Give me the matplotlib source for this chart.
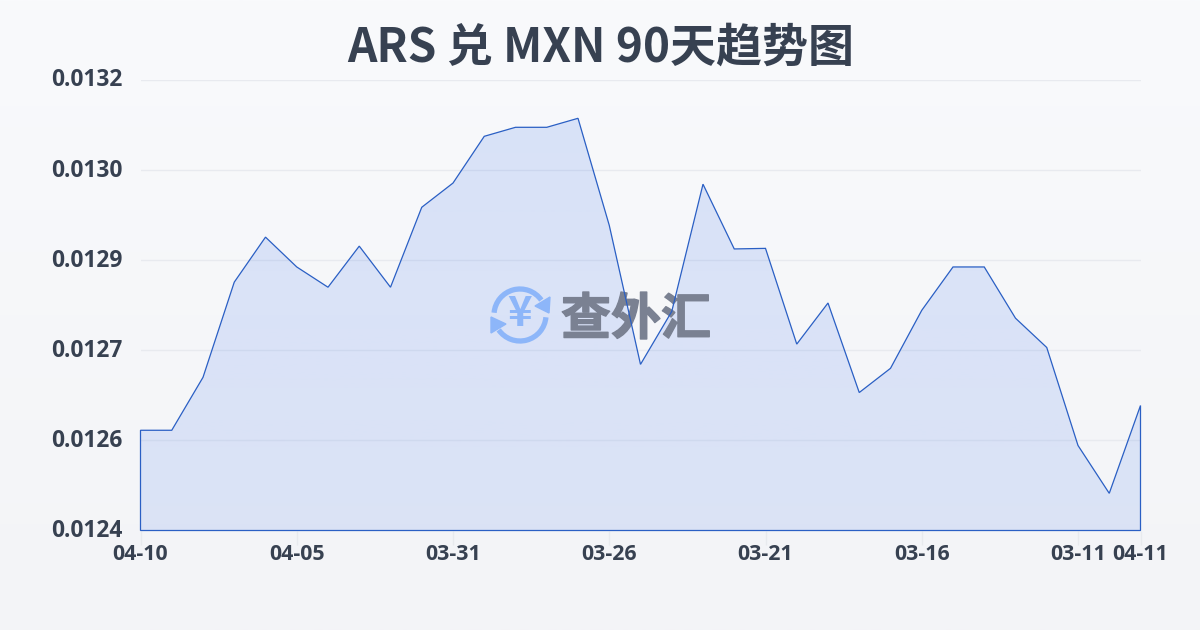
import numpy as np
import matplotlib
matplotlib.use('Agg')
import matplotlib.pyplot as plt
import matplotlib.patheffects as pe
from matplotlib.patches import Arc, Polygon
from matplotlib.transforms import ScaledTranslation

plt.rcParams['font.family'] = ['Noto Sans CJK SC', 'DejaVu Sans']

title = 'ARS 兑 MXN 90天趋势图'
rates = [0.012578, 0.012578, 0.012672, 0.012841, 0.012921, 0.012868, 0.012832,
         0.012905, 0.012832, 0.012974, 0.013017, 0.013100, 0.013116, 0.013116,
         0.013132, 0.012942, 0.012695, 0.012789, 0.013015, 0.012900, 0.012901,
         0.012731, 0.012804, 0.012645, 0.012688, 0.012791, 0.012868, 0.012868,
         0.012777, 0.012725, 0.012551, 0.012466, 0.012622]
xtick_pos = [0, 5, 10, 15, 20, 25, 30, 32]
xtick_labels = ['04-10', '04-05', '03-31', '03-26', '03-21', '03-16', '03-11', '04-11']
ytick_pos = [0.0124, 0.01256, 0.01272, 0.01288, 0.01304, 0.0132]
ytick_labels = ['0.0124', '0.0126', '0.0127', '0.0129', '0.0130', '0.0132']

textcolor = '#374151'
linecolor = '#2a5fc4'
W, H = 1200, 630

fig = plt.figure(figsize=(W / 100, H / 100), dpi=100)

# page background + title live in a pixel-coordinate axes
bg = fig.add_axes([0, 0, 1, 1], zorder=0)
bg.set_xlim(0, W)
bg.set_ylim(H, 0)
bg.axis('off')
grad = np.linspace(0, 1, 256).reshape(-1, 1)
top = np.array(matplotlib.colors.to_rgb('#f9fafc'))
bottom = np.array(matplotlib.colors.to_rgb('#f3f4f7'))
bg.imshow(top + (bottom - top) * grad[..., None], extent=[0, W, H, 0], aspect='auto')
bg.text(600.5, 47.5, title, ha='center', va='center', fontsize=33.1, fontweight='bold', color=textcolor)

ax = fig.add_axes([140.5 / W, 1 - 530.5 / H, 1000 / W, 450.5 / H], zorder=1)
ax.patch.set_alpha(0)
x = np.arange(len(rates))
ax.set_xlim(0, 32)
ax.set_ylim(0.0124, 0.0132)

for spine in ['left', 'right', 'top', 'bottom']:
    ax.spines[spine].set_visible(False)
ax.set_yticks(ytick_pos)
ax.set_yticklabels(ytick_labels, fontsize=16.4, fontweight='bold', color=textcolor, family='Open Sans')
ax.set_xticks(xtick_pos)
ax.set_xticklabels(xtick_labels, fontsize=15.4, fontweight='bold', color=textcolor, family='Open Sans')
ax.tick_params(axis='y', length=0, pad=13)
ax.tick_params(axis='x', length=10, width=1, color='#e8eaee', pad=0)
for lab in ax.get_yticklabels():
    lab.set_transform(lab.get_transform() + ScaledTranslation(0, 2.5 / 100, fig.dpi_scale_trans))
ax.grid(axis='y', color='#e8eaef', linewidth=1)
ax.set_axisbelow(True)

# vertical gradient fill clipped to the area under the curve
alpha = np.linspace(0.15, 0.12, 256)
rgba = np.zeros((256, 1, 4))
rgba[..., :3] = matplotlib.colors.to_rgb('#2563eb')
rgba[..., 3] = alpha[:, None]
img = ax.imshow(rgba, extent=[0, 32, 0.0124, 0.0132], aspect='auto', origin='upper', zorder=2)
verts = [(0, 0.0124)] + list(zip(x, rates)) + [(32, 0.0124)]
clip = Polygon(verts, closed=True, transform=ax.transData, facecolor='none',
               edgecolor=linecolor, linewidth=0.9, zorder=4, clip_on=False)
ax.add_patch(clip)
img.set_clip_path(clip)
ax.set_xlim(0, 32)
ax.set_ylim(0.0124, 0.0132)

# watermark logo, between the fill and the line, placed in page pixels
logo = '#8db6f9'
cx, cy, r = 520, 315, 26
marks = [Arc((cx, cy), 2 * r, 2 * r, theta1=185, theta2=325, color=logo, lw=3.8),
         Arc((cx, cy), 2 * r, 2 * r, theta1=5, theta2=145, color=logo, lw=3.8),
         Polygon([(550, 297), (549, 313), (535, 306)], color=logo),
         Polygon([(491, 333), (491, 317), (506, 324)], color=logo)]
for m in marks:
    m.set_transform(bg.transData)
    m.set_zorder(3)
    m.set_clip_on(False)
    ax.add_patch(m)
ax.text(cx, cy - 1, '¥', ha='center', va='center', fontsize=30, fontweight='bold', color=logo,
        transform=bg.transData, zorder=3)
logo_text = ax.text(636, 320, '查外汇', ha='center', va='center', fontsize=36, fontweight='heavy',
                    color='#7a8192', transform=bg.transData, zorder=3)
logo_text.set_path_effects([pe.withStroke(linewidth=1, foreground='#7a8192')])
ax.set_xlim(0, 32)
ax.set_ylim(0.0124, 0.0132)

fig.savefig('out.png', dpi=100)
